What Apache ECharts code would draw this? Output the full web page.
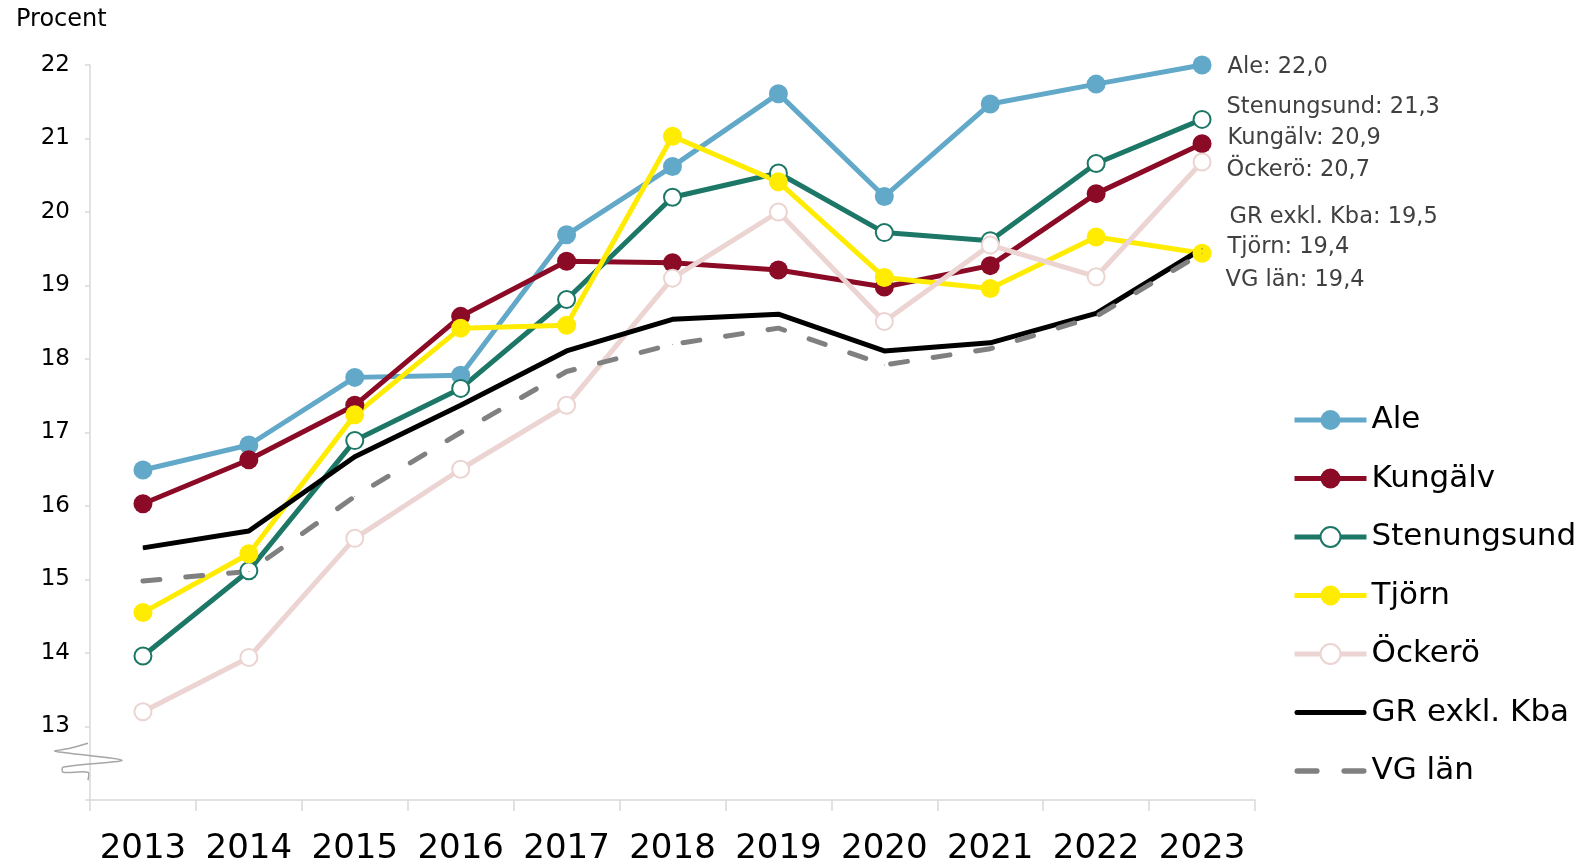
<!DOCTYPE html>
<html>
<head>
<meta charset="utf-8">
<script src="https://cdn.jsdelivr.net/npm/echarts@6/dist/echarts.min.js"></script>
<style>
  html, body { margin: 0; padding: 0; background: #ffffff; }
  #chart { width: 1584px; height: 862px; }
</style>
</head>
<body>
<div id="chart"></div>
<script>
// ---- Data ----
const years = ['2013', '2014', '2015', '2016', '2017', '2018', '2019', '2020', '2021', '2022', '2023'];
const yTicks = [12, 13, 14, 15, 16, 17, 18, 19, 20, 21, 22];
const ale         = [16.49, 16.83, 17.75, 17.78, 19.69, 20.62, 21.61, 20.21, 21.47, 21.74, 22.00];
const kungalv     = [16.03, 16.63, 17.37, 18.58, 19.33, 19.31, 19.21, 18.98, 19.27, 20.25, 20.93];
const stenungsund = [13.96, 15.12, 16.89, 17.60, 18.81, 20.20, 20.53, 19.72, 19.61, 20.66, 21.26];
const tjorn       = [14.55, 15.35, 17.24, 18.42, 18.46, 21.03, 20.41, 19.11, 18.96, 19.66, 19.44];
const ockero      = [13.20, 13.94, 15.56, 16.50, 17.37, 19.10, 20.00, 18.51, 19.55, 19.12, 20.68];
const grExklKba   = [15.43, 15.66, 16.67, 17.37, 18.11, 18.54, 18.61, 18.11, 18.22, 18.62, 19.50];
const vgLan       = [14.98, 15.11, 16.13, 17.00, 17.83, 18.20, 18.42, 17.92, 18.14, 18.58, 19.44];

// ---- Styling ----
const FONT = 'DejaVu Sans';
const AXIS_COLOR = '#d9d9d9';
const last = years.length - 1;
const fmt = v => v.toFixed(1).replace('.', ',');

const seriesDefs = [
  { name: 'Ale',          data: ale,         color: '#62a9c9', symbol: 'circle',      size: 19, offset: [16, 2] },
  { name: 'Kungälv',      data: kungalv,     color: '#8b0a25', symbol: 'circle',      size: 19, offset: [16, -5] },
  { name: 'Stenungsund',  data: stenungsund, color: '#1c7766', symbol: 'emptyCircle', size: 17, offset: [15, -12] },
  { name: 'Tjörn',        data: tjorn,       color: '#ffec00', symbol: 'circle',      size: 19, offset: [16, -6] },
  { name: 'Öckerö',       data: ockero,      color: '#ebd4d2', symbol: 'emptyCircle', size: 17, offset: [15, 8] },
  { name: 'GR exkl. Kba', data: grExklKba,   color: '#000000', symbol: 'circle',      size: 1,  offset: [27, -32], plain: true },
  { name: 'VG län',       data: vgLan,       color: '#808080', symbol: 'circle',      size: 1,  offset: [23, 27], plain: true, dashed: true }
];

const series = seriesDefs.map(d => ({
  name: d.name,
  type: 'line',
  data: d.data,
  symbol: d.symbol,
  symbolSize: d.size,
  showSymbol: true,
  showAllSymbol: true,
  color: d.color,
  itemStyle: { color: d.color, borderColor: d.color, borderWidth: d.symbol === 'emptyCircle' ? 2 : 0 },
  lineStyle: {
    color: d.color,
    width: 5,
    type: d.dashed ? [17, 26] : 'solid',
    cap: d.dashed ? 'round' : 'butt',
    join: 'round'
  },
  label: {
    show: true,
    position: 'right',
    distance: 0,
    offset: d.offset,
    fontFamily: FONT,
    fontSize: 22.5,
    color: '#404040',
    formatter: p => p.dataIndex === last ? p.seriesName + ': ' + fmt(p.value) : ''
  },
  emphasis: { disabled: true },
  animation: false,
  z: 2
}));

const legendData = seriesDefs.map(d => {
  if (!d.plain) return { name: d.name };
  if (d.dashed) {
    return {
      name: d.name,
      icon: 'path://M2.5,0H20.5A2.5,2.5,0,0,1,20.5,5H2.5A2.5,2.5,0,0,1,2.5,0Z M45.5,0H63.5A2.5,2.5,0,0,1,63.5,5H45.5A2.5,2.5,0,0,1,45.5,0Z',
      itemStyle: { color: d.color, opacity: 1, borderWidth: 0 }
    };
  }
  return {
    name: d.name,
    icon: 'path://M2.5,0H69.5A2.5,2.5,0,0,1,69.5,5H2.5A2.5,2.5,0,0,1,2.5,0Z',
    itemStyle: { color: d.color, opacity: 1, borderWidth: 0 }
  };
});

const chart = echarts.init(document.getElementById('chart'), null, { renderer: 'canvas' });

chart.setOption({
  backgroundColor: '#ffffff',
  animation: false,
  title: {
    text: 'Procent',
    left: 16,
    top: 8,
    padding: 0,
    textStyle: { fontFamily: FONT, fontSize: 24, fontWeight: 'normal', color: '#000000' }
  },
  grid: { left: 90, right: 329, top: 65, bottom: 62, containLabel: false, outerBoundsMode: 'none' },
  legend: {
    orient: 'vertical',
    left: 1292,
    top: 402,
    padding: 0,
    itemWidth: 72,
    itemHeight: 25,
    itemGap: 22.5,
    selectedMode: false,
    lineStyle: { width: 5 },
    textStyle: { fontFamily: FONT, fontSize: 31, color: '#000000', lineHeight: 36 },
    data: legendData
  },
  xAxis: {
    type: 'category',
    data: years,
    boundaryGap: true,
    axisLine: { show: true, lineStyle: { color: AXIS_COLOR, width: 1.5 } },
    axisTick: { show: true, length: 11, lineStyle: { color: AXIS_COLOR, width: 1.5 } },
    axisLabel: { fontFamily: FONT, fontSize: 34, color: '#000000', margin: 35, interval: 0, lineHeight: 28 },
    splitLine: { show: false }
  },
  yAxis: {
    type: 'value',
    min: yTicks[0],
    max: yTicks[yTicks.length - 1],
    interval: 1,
    axisLine: { show: true, lineStyle: { color: AXIS_COLOR, width: 1.5 } },
    axisTick: { show: true, length: 5, lineStyle: { color: AXIS_COLOR, width: 1.5 } },
    axisLabel: {
      fontFamily: FONT, fontSize: 23, color: '#000000', margin: 20,
      formatter: v => (v === yTicks[0] ? '' : String(v))
    },
    splitLine: { show: false }
  },
  series: series
});

// Axis-break squiggle, anchored to the axis via the library's scale
const base = chart.convertToPixel({ xAxisIndex: 0, yAxisIndex: 0 }, [0, 12.5]);
const bx = chart.getModel().getComponent('grid').coordinateSystem.getRect().x;
const by = base[1];
const rel = [[-2, -20], [-20, -15], [-35, -12], [32, -3], [-27, 4], [-27, 9], [-2, 9], [-2, 17]];
chart.setOption({
  graphic: [{
    type: 'polyline',
    shape: { points: rel.map(p => [bx + p[0], by + p[1]]), smooth: 0.25 },
    style: { stroke: '#a6a6a6', lineWidth: 1.5, fill: null },
    z: 10
  }]
});
</script>
</body>
</html>
